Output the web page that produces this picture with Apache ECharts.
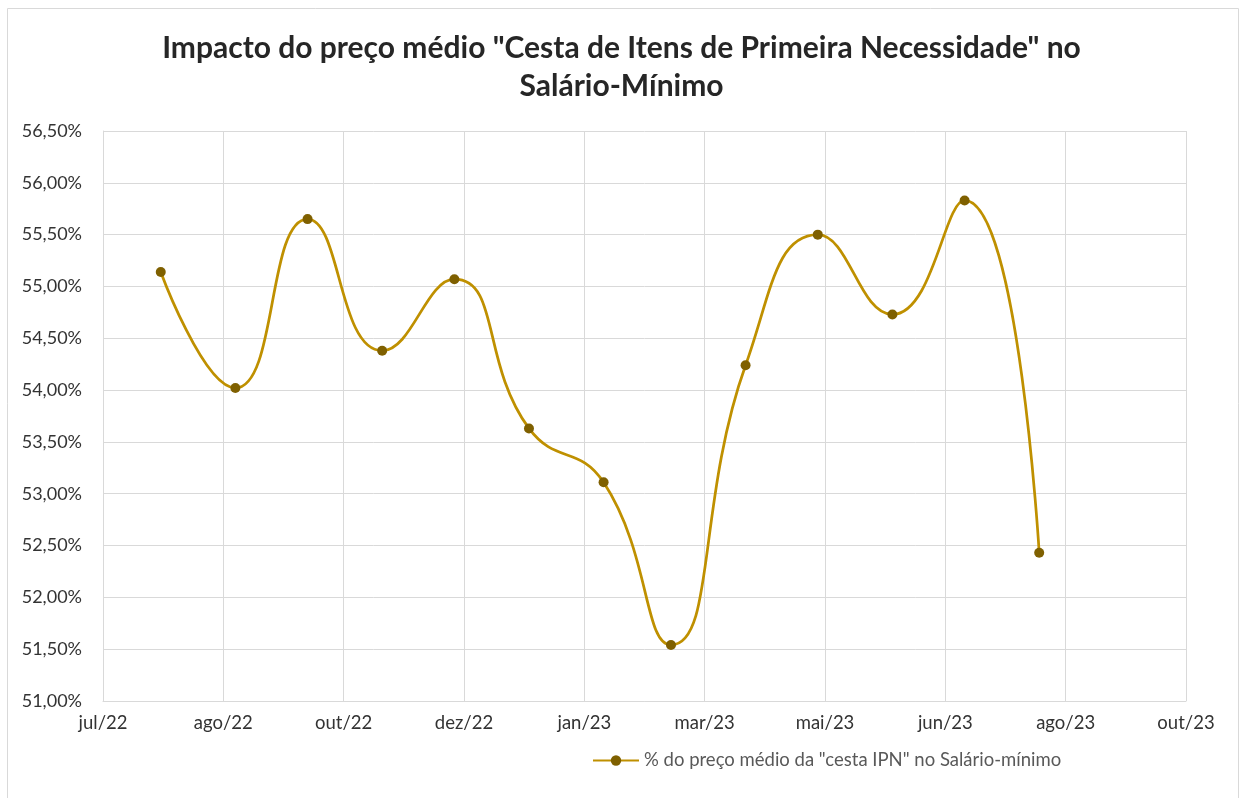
<!DOCTYPE html>
<html>
<head>
<meta charset="utf-8">
<script src="https://cdn.jsdelivr.net/npm/echarts@6/dist/echarts.min.js"></script>
<style>
  html, body { margin: 0; padding: 0; background: #fff; }
  #chart { width: 1243px; height: 798px; }
</style>
</head>
<body>
<div id="chart"></div>
<script>
// datas dos pontos (dia 1 de cada mês)
const dates = [
  '2022-08-01', '2022-09-01', '2022-10-01', '2022-11-01', '2022-12-01', '2023-01-01', '2023-02-01',
  '2023-03-01', '2023-04-01', '2023-05-01', '2023-06-01', '2023-07-01', '2023-08-01'
]
// % do preço médio da "cesta IPN" no salário-mínimo
const values = [55.14, 54.02, 55.65, 54.38, 55.07, 53.63, 53.11, 51.54, 54.24, 55.50, 54.73, 55.83, 52.43]
const monthNames = ['jan', 'fev', 'mar', 'abr', 'mai', 'jun', 'jul', 'ago', 'set', 'out', 'nov', 'dez']
const seriesName = '% do preço médio da "cesta IPN" no Salário-mínimo'

// eixo de datas: início 08/07/2022, passo de 50 dias (como no Excel)
const DAY = 86400000
const axisStart = Date.UTC(2022, 6, 8)
const toDay = (s) => {
  const [y, m, d] = s.split('-').map(Number)
  return Math.round((Date.UTC(y, m - 1, d) - axisStart) / DAY)
}
const dayLabel = (v) => {
  const d = new Date(axisStart + v * DAY)
  return monthNames[d.getUTCMonth()] + '/' + String(d.getUTCFullYear()).slice(2)
}

const chart = echarts.init(document.getElementById('chart'))
const font = 'Lato, "Open Sans", sans-serif'

chart.setOption({
  animation: false,
  textStyle: { fontFamily: font },
  title: {
    text: 'Impacto do preço médio "Cesta de Itens de Primeira Necessidade" no\nSalário-Mínimo',
    left: 'center',
    top: 24,
    textStyle: { fontSize: 30, fontWeight: 'bold', color: '#262626', lineHeight: 38, fontFamily: font },
  },
  graphic: [
    {
      type: 'rect',
      shape: { x: 7.5, y: 8.5, width: 1231, height: 800 },
      style: { fill: 'none', stroke: '#d9d9d9', lineWidth: 1 },
      silent: true,
    },
  ],
  grid: { left: 103, right: 57, top: 131, bottom: 97 },
  legend: {
    left: 587,
    top: 746,
    itemWidth: 46,
    itemHeight: 13,
    itemGap: 4,
    textStyle: { fontSize: 18.5, color: '#595959', fontFamily: font },
    data: [seriesName],
  },
  xAxis: {
    type: 'value',
    min: 0,
    max: 450,
    interval: 50,
    axisLine: { show: true, lineStyle: { color: '#d9d9d9', width: 1 } },
    axisTick: { show: false },
    splitLine: { show: true, lineStyle: { color: '#d9d9d9', width: 1 } },
    axisLabel: {
      formatter: dayLabel,
      fontSize: 18.5,
      color: '#333333',
      margin: 13,
      showMinLabel: true,
      showMaxLabel: true,
    },
  },
  yAxis: {
    type: 'value',
    min: 51,
    max: 56.5,
    interval: 0.5,
    axisLine: { show: true, lineStyle: { color: '#d9d9d9', width: 1 } },
    axisTick: { show: false },
    splitLine: { show: true, lineStyle: { color: '#d9d9d9', width: 1 } },
    axisLabel: {
      formatter: (v) => v.toFixed(2).replace('.', ',') + '%',
      fontSize: 18,
      color: '#333333',
      margin: 21,
    },
  },
  series: [
    {
      name: seriesName,
      type: 'line',
      smooth: 0.5,
      data: dates.map((d, i) => [toDay(d), values[i]]),
      symbol: 'circle',
      symbolSize: 10,
      lineStyle: { color: '#BF9000', width: 2.75 },
      itemStyle: { color: '#7F6000', borderWidth: 0 },
    },
  ],
})
</script>
</body>
</html>
